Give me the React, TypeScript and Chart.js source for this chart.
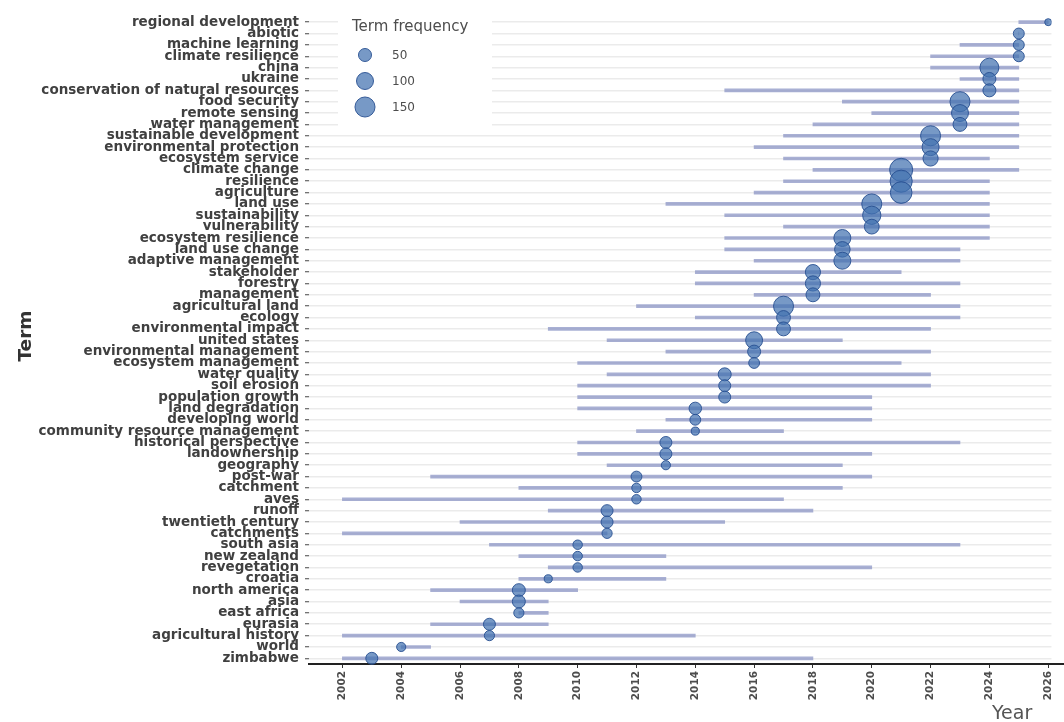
import React, { useEffect, useRef } from "react";
import { Chart, registerables } from "chart.js";

Chart.register(...registerables);

const terms = [
  "regional development", "abiotic", "machine learning", "climate resilience", "china",
  "ukraine", "conservation of natural resources", "food security", "remote sensing", "water management",
  "sustainable development", "environmental protection", "ecosystem service", "climate change", "resilience",
  "agriculture", "land use", "sustainability", "vulnerability", "ecosystem resilience",
  "land use change", "adaptive management", "stakeholder", "forestry", "management",
  "agricultural land", "ecology", "environmental impact", "united states", "environmental management",
  "ecosystem management", "water quality", "soil erosion", "population growth", "land degradation",
  "developing world", "community resource management", "historical perspective", "landownership", "geography",
  "post-war", "catchment", "aves", "runoff", "twentieth century",
  "catchments", "south asia", "new zealand", "revegetation", "croatia",
  "north america", "asia", "east africa", "eurasia", "agricultural history",
  "world", "zimbabwe",
];

const startYears = [
  2025, 2025, 2023, 2022, 2022, 2023, 2015, 2019, 2020, 2018,
  2017, 2016, 2017, 2018, 2017, 2016, 2013, 2015, 2017, 2015,
  2015, 2016, 2014, 2014, 2016, 2012, 2014, 2009, 2011, 2013,
  2010, 2011, 2010, 2010, 2010, 2013, 2012, 2010, 2010, 2011,
  2005, 2008, 2002, 2009, 2006, 2002, 2007, 2008, 2009, 2008,
  2005, 2006, 2008, 2005, 2002, 2004, 2002,
];

const medianYears = [
  2026, 2025, 2025, 2025, 2024, 2024, 2024, 2023, 2023, 2023,
  2022, 2022, 2022, 2021, 2021, 2021, 2020, 2020, 2020, 2019,
  2019, 2019, 2018, 2018, 2018, 2017, 2017, 2017, 2016, 2016,
  2016, 2015, 2015, 2015, 2014, 2014, 2014, 2013, 2013, 2013,
  2012, 2012, 2012, 2011, 2011, 2011, 2010, 2010, 2010, 2009,
  2008, 2008, 2008, 2007, 2007, 2004, 2003,
];

const endYears = [
  2026, 2025, 2025, 2025, 2025, 2025, 2025, 2025, 2025, 2025,
  2025, 2025, 2024, 2025, 2024, 2024, 2024, 2024, 2024, 2024,
  2023, 2023, 2021, 2023, 2022, 2023, 2023, 2022, 2019, 2022,
  2021, 2022, 2022, 2020, 2020, 2020, 2017, 2023, 2020, 2019,
  2020, 2019, 2017, 2018, 2015, 2011, 2023, 2013, 2020, 2013,
  2010, 2009, 2009, 2009, 2014, 2005, 2018,
];

const frequencies = [
  7, 31, 31, 31, 130, 50, 50, 150, 100, 60,
  150, 100, 75, 210, 190, 180, 150, 120, 70, 100,
  80, 100, 75, 75, 60, 150, 60, 60, 100, 50,
  30, 50, 40, 40, 45, 30, 12, 40, 40, 18,
  30, 20, 20, 40, 40, 25, 20, 20, 20, 12,
  50, 50, 25, 40, 25, 18, 40,
];

const yearTicks = [2002, 2004, 2006, 2008, 2010, 2012, 2014, 2016, 2018, 2020, 2022, 2024, 2026];
const legendValues = [50, 100, 150];

const bubbleRadius = (f: number) => 1.7 + 0.68 * Math.sqrt(f);

const BUBBLE_FILL = "rgba(66,114,176,0.72)";
const BUBBLE_BORDER = "rgba(40,80,145,0.9)";
const FONT = "DejaVu Sans";

export default function App() {
  const ref = useRef<HTMLCanvasElement>(null);

  useEffect(() => {
    if (!ref.current) return;
    const overlay = {
      id: "overlay",
      afterDraw(chart: any) {
        const ctx = chart.ctx as CanvasRenderingContext2D;
        const area = chart.chartArea;
        ctx.save();
        // extend the x axis line to the right edge of the canvas
        ctx.strokeStyle = "#222";
        ctx.lineWidth = 2;
        ctx.beginPath();
        ctx.moveTo(area.right - 1, Math.round(area.bottom));
        ctx.lineTo(chart.width, Math.round(area.bottom));
        ctx.stroke();
        // legend box
        ctx.fillStyle = "#ffffff";
        ctx.fillRect(338, 10, 154, 118);
        ctx.fillStyle = "#4d4d4d";
        ctx.font = `15px "${FONT}"`;
        ctx.textAlign = "left";
        ctx.textBaseline = "alphabetic";
        ctx.fillText("Term frequency", 352, 31);
        legendValues.forEach((v, i) => {
          const cy = 55 + i * 26;
          ctx.beginPath();
          ctx.arc(365, cy, bubbleRadius(v), 0, Math.PI * 2);
          ctx.fillStyle = BUBBLE_FILL;
          ctx.fill();
          ctx.lineWidth = 1;
          ctx.strokeStyle = BUBBLE_BORDER;
          ctx.stroke();
          ctx.fillStyle = "#4d4d4d";
          ctx.font = `12px "${FONT}"`;
          ctx.textBaseline = "middle";
          ctx.fillText(String(v), 392, cy + 1);
        });
        // axis titles
        ctx.save();
        ctx.translate(26, 336);
        ctx.rotate(-Math.PI / 2);
        ctx.font = `bold 18.5px "${FONT}"`;
        ctx.textAlign = "center";
        ctx.textBaseline = "middle";
        ctx.fillStyle = "#333333";
        ctx.fillText("Term", 0, 0);
        ctx.restore();
        ctx.font = `19px "${FONT}"`;
        ctx.textAlign = "left";
        ctx.textBaseline = "alphabetic";
        ctx.fillStyle = "#555555";
        ctx.fillText("Year", 992, 719);
        ctx.restore();
      },
    };

    const chart = new Chart(ref.current, {
      type: "bubble",
      data: {
        labels: terms,
        datasets: [
          {
            type: "bar",
            indexAxis: "y",
            data: terms.map((_, i) => [startYears[i], endYears[i]]),
            backgroundColor: "rgba(140,150,198,0.75)",
            borderWidth: 0,
            barThickness: 3,
            order: 1,
          } as any,
          {
            type: "bubble",
            data: terms.map((t, i) => ({ x: medianYears[i], y: t, r: bubbleRadius(frequencies[i]) })),
            backgroundColor: BUBBLE_FILL,
            borderColor: BUBBLE_BORDER,
            borderWidth: 1,
            order: 0,
          } as any,
        ],
      },
      options: {
        responsive: false,
        animation: false,
        events: [],
        layout: { padding: { left: 0, right: 0, top: 16.5, bottom: 18 } },
        plugins: { legend: { display: false }, tooltip: { enabled: false } },
        scales: {
          x: {
            type: "linear",
            min: 2000.865,
            max: 2026.11,
            afterBuildTicks: (s: any) => {
              s.ticks = yearTicks.map((v) => ({ value: v }));
            },
            afterFit: (s: any) => {
              s.height = 40;
            },
            grid: { drawOnChartArea: false, drawTicks: true, tickLength: 4, tickColor: "#333", tickWidth: 1 },
            border: { display: true, color: "#222", width: 2 },
            ticks: {
              minRotation: 90,
              maxRotation: 90,
              padding: 3,
              color: "#4d4d4d",
              font: { family: FONT, size: 10.5, weight: "bold" },
              callback: (v: any) => String(v),
            },
          },
          y: {
            type: "category",
            labels: terms,
            offset: true,
            afterFit: (s: any) => {
              s.width = 309;
            },
            grid: { offset: false, color: "#ebebeb", lineWidth: 1.5, drawTicks: true, tickLength: 4, tickColor: "#444", tickWidth: 1 },
            border: { display: false },
            ticks: {
              autoSkip: false,
              padding: 6,
              color: "#404040",
              font: { family: FONT, size: 13.5, weight: "bold" },
            },
          },
        },
      } as any,
      plugins: [overlay],
    });
    return () => chart.destroy();
  }, []);

  return (
    <div style={{ position: "absolute", left: 0, top: 0, width: 1064, height: 722, background: "#fff" }}>
      <canvas ref={ref} width={1064} height={722} style={{ display: "block" }} />
    </div>
  );
}
